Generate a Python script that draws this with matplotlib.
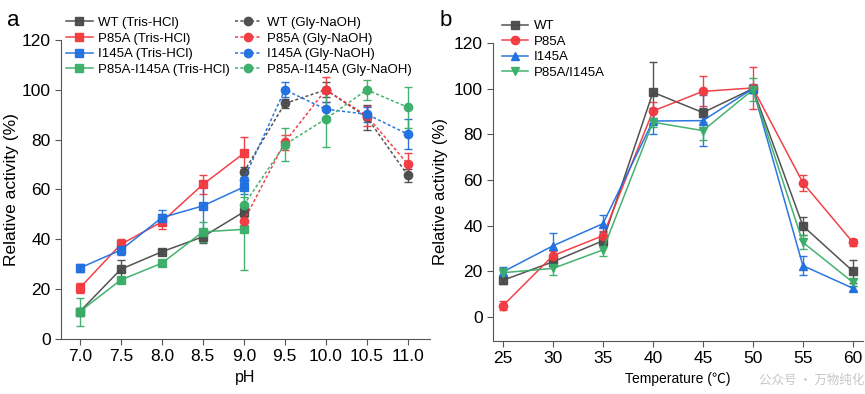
import matplotlib.pyplot as plt
import numpy as np

plt.rcParams['font.family'] = ['Liberation Sans', 'DejaVu Sans']

# ---- panel a : pH profile ----
ph_tris = [7.0, 7.5, 8.0, 8.5, 9.0]
ph_gly = [9.0, 9.5, 10.0, 10.5, 11.0]
ph_ticks = [7.0, 7.5, 8.0, 8.5, 9.0, 9.5, 10.0, 10.5, 11.0]

wt_tris = [11, 28, 35, 41, 51]
wt_tris_err = [1.5, 3.7, 1, 2.5, 2]
p85a_tris = [20.5, 38, 47, 62, 74.5]
p85a_tris_err = [2, 2, 3, 3.7, 6.4]
i145a_tris = [28.5, 35.7, 48.7, 53.4, 61]
i145a_tris_err = [1.5, 2, 3, 10, 3]
dbl_tris = [11, 23.7, 30.4, 43, 44]
dbl_tris_err = [5.6, 1, 1, 4, 16.5]

wt_gly = [67, 94.5, 100, 89, 65.7]
wt_gly_err = [2, 2, 3, 5, 2.5]
p85a_gly = [47.4, 79, 100, 89.6, 70.2]
p85a_gly_err = [2, 3, 5, 4, 4.4]
i145a_gly = [64, 100, 92.2, 90.2, 82.2]
i145a_gly_err = [3, 3, 3, 3, 6]
dbl_gly = [53.8, 78, 88.3, 100, 93]
dbl_gly_err = [3, 6.7, 11.4, 4, 8.3]

# ---- panel b : temperature profile ----
temps = [25, 30, 35, 40, 45, 50, 55, 60]
wt_t = [16.1, 24.2, 33.4, 98.4, 89.5, 100, 39.9, 20.1]
wt_t_err = [1.5, 2, 2, 13.3, 2, 1, 4, 5]
p85a_t = [5, 26.9, 35.6, 90.2, 98.8, 100.3, 58.8, 32.7]
p85a_t_err = [2, 2, 2, 4, 6.6, 9.2, 3.6, 1.5]
i145a_t = [19.8, 31.2, 40.9, 85.8, 86, 100, 22.5, 12.6]
i145a_t_err = [2, 5.5, 3.6, 5.8, 11, 2, 4, 1]
dbl_t = [19.4, 21.3, 29.4, 85.3, 81.6, 99.5, 32.7, 15.2]
dbl_t_err = [2, 3, 2.5, 2, 4, 5, 3, 1.5]

c_black = '#4a4a4a'
c_red = '#f2383f'
c_blue = '#1f6fe0'
c_green = '#3aae68'

fig = plt.figure(figsize=(8.65, 3.94), dpi=100)
ax1 = fig.add_axes([0.0705, 0.1396, 0.4265, 0.759])
ax2 = fig.add_axes([0.570, 0.1345, 0.4275, 0.7565])

sty = dict(lw=1.1, ms=6, capsize=3, elinewidth=1, capthick=1, alpha=0.95)

h1, l1 = [], []
for y, e, c, lab in [(wt_tris, wt_tris_err, c_black, 'WT (Tris-HCl)'),
                     (p85a_tris, p85a_tris_err, c_red, 'P85A (Tris-HCl)'),
                     (i145a_tris, i145a_tris_err, c_blue, 'I145A (Tris-HCl)'),
                     (dbl_tris, dbl_tris_err, c_green, 'P85A-I145A (Tris-HCl)')]:
    eb = ax1.errorbar(ph_tris, y, yerr=e, color=c, marker='s', ls='-', **sty)
    h1.append(eb.lines[0])
    l1.append(lab)

for y, e, c, lab in [(wt_gly, wt_gly_err, c_black, 'WT (Gly-NaOH)'),
                     (p85a_gly, p85a_gly_err, c_red, 'P85A (Gly-NaOH)'),
                     (i145a_gly, i145a_gly_err, c_blue, 'I145A (Gly-NaOH)'),
                     (dbl_gly, dbl_gly_err, c_green, 'P85A-I145A (Gly-NaOH)')]:
    eb = ax1.errorbar(ph_gly, y, yerr=e, color=c, marker='o', ls=(0, (2, 1.5)), **sty)
    h1.append(eb.lines[0])
    l1.append(lab)

ax1.set_xlim(6.77, 11.27)
ax1.set_ylim(0, 120)
ax1.set_xticks(ph_ticks)
ax1.set_xticklabels(['%.1f' % v for v in ph_ticks])
ax1.set_yticks(range(0, 121, 20))
ax1.set_xlabel('pH', fontsize=11.5)
ax1.set_ylabel('Relative activity (%)', fontsize=12.5, labelpad=2)
ax1.legend(h1, l1, loc='upper left', bbox_to_anchor=(0.0, 1.095), ncol=2, frameon=False,
           fontsize=9.5, handlelength=2.0, labelspacing=0.25, columnspacing=0.4,
           borderaxespad=0, handletextpad=0.4)

h2, l2 = [], []
for y, e, c, m, lab in [(wt_t, wt_t_err, c_black, 's', 'WT'),
                        (p85a_t, p85a_t_err, c_red, 'o', 'P85A'),
                        (i145a_t, i145a_t_err, c_blue, '^', 'I145A'),
                        (dbl_t, dbl_t_err, c_green, 'v', 'P85A/I145A')]:
    eb = ax2.errorbar(temps, y, yerr=e, color=c, marker=m, ls='-', **sty)
    h2.append(eb.lines[0])
    l2.append(lab)

ax2.set_xlim(24, 61)
ax2.set_ylim(-10.5, 120)
ax2.set_xticks(temps)
ax2.set_yticks(range(0, 121, 20))
ax2.set_xlabel('Temperature (\u2103)', fontsize=10, family=['Liberation Sans', 'Noto Sans CJK SC', 'DejaVu Sans'])
ax2.set_ylabel('Relative activity (%)', fontsize=12, labelpad=4)
ax2.legend(h2, l2, loc='upper left', bbox_to_anchor=(0.01, 1.095), ncol=1, frameon=False,
           fontsize=9.5, handlelength=2.0, labelspacing=0.25, borderaxespad=0,
           handletextpad=0.4)

for ax in (ax1, ax2):
    ax.spines['top'].set_visible(False)
    ax.spines['right'].set_visible(False)
    ax.spines['left'].set_color('#555555')
    ax.spines['bottom'].set_color('#555555')
    ax.tick_params(labelsize=12.5, length=4, color='#555555')

fig.text(0.008, 0.935, 'a', fontsize=16)
fig.text(0.508, 0.935, 'b', fontsize=16)

fig.text(0.877, 0.025, '公众号 · 万物纯化', fontsize=9, color='#b8b8b8', alpha=0.8,
         family=['Noto Sans CJK SC', 'DejaVu Sans'])

fig.savefig('out.png', dpi=100)
